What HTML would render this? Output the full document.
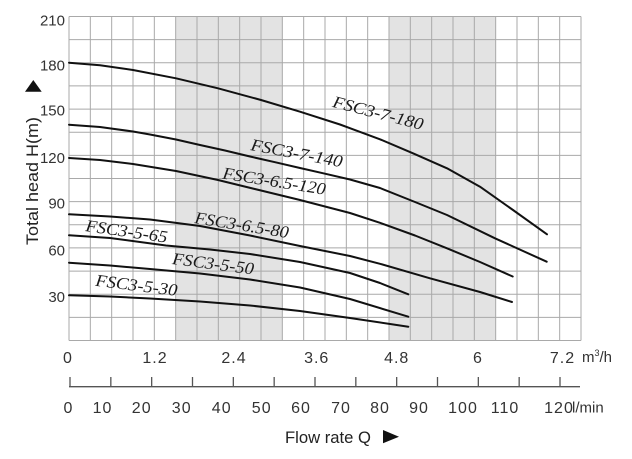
<!DOCTYPE html>
<html><head><meta charset="utf-8"><style>
html,body{margin:0;padding:0;background:#fff;}
svg{display:block;}
</style></head><body>
<svg width="632" height="459" viewBox="0 0 632 459" xmlns="http://www.w3.org/2000/svg">
<rect x="0" y="0" width="632" height="459" fill="#fff"/>
<!-- shaded bands -->
<rect x="175.67" y="16.5" width="106.66" height="324" fill="#e3e3e3"/>
<rect x="389" y="16.5" width="106.67" height="324" fill="#e3e3e3"/>
<!-- grid -->
<path fill="none" stroke="#a9a9a9" stroke-width="1" d="
M69,16.5V340.5 M90.33,16.5V340.5 M111.67,16.5V340.5 M133,16.5V340.5 M154.33,16.5V340.5 M175.67,16.5V340.5
M197,16.5V340.5 M218.33,16.5V340.5 M239.67,16.5V340.5 M261,16.5V340.5 M282.33,16.5V340.5 M303.67,16.5V340.5
M325,16.5V340.5 M346.33,16.5V340.5 M367.67,16.5V340.5 M389,16.5V340.5 M410.33,16.5V340.5 M431.67,16.5V340.5
M453,16.5V340.5 M474.33,16.5V340.5 M495.67,16.5V340.5 M517,16.5V340.5 M538.33,16.5V340.5 M559.67,16.5V340.5 M581,16.5V340.5
M69,16.5H581 M69,39.64H581 M69,62.79H581 M69,85.93H581 M69,109.07H581 M69,132.21H581 M69,155.36H581
M69,178.5H581 M69,201.64H581 M69,224.79H581 M69,247.93H581 M69,271.07H581 M69,294.21H581 M69,317.36H581 M69,340.5H581"/>

<!-- curves -->
<g fill="none" stroke="#111" stroke-width="2" stroke-linejoin="round" stroke-linecap="round">
<polyline points="69,62.7 100,65.2 133,70 176,78.3 218,88.3 261,100 300,111.7 340,124.5 380,139.3 413,153.3 447,168.3 480,186.7 513,210 547,234.3"/>
<polyline points="69,124.7 100,127 133,131.5 150,134.5 176,139.5 200,145 225,150.5 250,156.5 275,162.2 300,168 325,173.7 350,179.5 380,188 415,202 447,215 495,238.3 546.7,261.7"/>
<polyline points="69,158 100,160 133,164 176,171 218,180 261,190.5 300,200 350,213 380,222.8 415,235.5 447,248.3 480,262 512.7,276.5"/>
<polyline points="69,214.3 110,216.5 150,219.5 200,226 250,235.5 300,246 350,256 380,263.8 430,278.3 480,292 512,302"/>
<polyline points="69,235.3 110,238 166,245.5 210,249.5 250,254 300,262 350,273 380,283 408.3,294.3"/>
<polyline points="69,262.7 110,265.5 150,269 200,273.5 250,279.5 300,287.5 350,299 408.3,316.7"/>
<polyline points="69,295.3 110,296.5 150,298.5 200,301.5 250,305.5 300,311 350,318 408.3,326.7"/>
</g>

<!-- curve labels -->
<g font-family="'Liberation Serif', serif" font-style="italic" font-size="17" fill="#1a1a1a">
<text transform="translate(331.7,106.7) rotate(14.5)" textLength="93" lengthAdjust="spacingAndGlyphs">FSC3-7-180</text>
<text transform="translate(250,150) rotate(10.7)" textLength="93" lengthAdjust="spacingAndGlyphs">FSC3-7-140</text>
<text transform="translate(222,178.5) rotate(9)" textLength="104" lengthAdjust="spacingAndGlyphs">FSC3-6.5-120</text>
<text transform="translate(194,223) rotate(9.1)" textLength="95" lengthAdjust="spacingAndGlyphs">FSC3-6.5-80</text>
<text transform="translate(85,231) rotate(8.1)" textLength="82.5" lengthAdjust="spacingAndGlyphs">FSC3-5-65</text>
<text transform="translate(171.7,264) rotate(7.3)" textLength="82.2" lengthAdjust="spacingAndGlyphs">FSC3-5-50</text>
<text transform="translate(95,285.8) rotate(7)" textLength="82.3" lengthAdjust="spacingAndGlyphs">FSC3-5-30</text>
</g>

<!-- y axis labels -->
<g font-family="'Liberation Sans', sans-serif" font-size="15" fill="#333" text-anchor="end">
<text x="65" y="25.5">210</text>
<text x="65" y="70.5">180</text>
<text x="65" y="115.5">150</text>
<text x="65" y="163">120</text>
<text x="65" y="208.5">90</text>
<text x="65" y="255.5">60</text>
<text x="65" y="302">30</text>
</g>
<polygon points="25,91.7 41.7,91.7 33.3,80" fill="#111"/>
<text transform="translate(38,181) rotate(-90)" text-anchor="middle" font-family="'Liberation Sans', sans-serif" font-size="17" fill="#222" textLength="128" lengthAdjust="spacingAndGlyphs">Total head H(m)</text>

<!-- m3/h axis labels -->
<g font-family="'Liberation Sans', sans-serif" font-size="16" fill="#333" text-anchor="middle" letter-spacing="1">
<text x="68" y="363">0</text>
<text x="155" y="363">1.2</text>
<text x="234" y="363">2.4</text>
<text x="316.7" y="363">3.6</text>
<text x="396.7" y="363">4.8</text>
<text x="478" y="363">6</text>
<text x="562.5" y="363">7.2</text>
</g>
<text x="582" y="362" font-family="'Liberation Sans', sans-serif" font-size="15" fill="#333">m<tspan font-size="9" dy="-6">3</tspan><tspan dy="6">/h</tspan></text>

<!-- l/min scale -->
<path fill="none" stroke="#555" stroke-width="1.3" d="M69,386.7H580
M70,377V386.7 M110.83,377V386.7 M151.67,377V386.7 M192.5,377V386.7 M233.33,377V386.7 M274.17,377V386.7 M315,377V386.7
M355.83,377V386.7 M396.67,377V386.7 M437.5,377V386.7 M478.33,377V386.7 M519.17,377V386.7 M560,377V386.7"/>
<g font-family="'Liberation Sans', sans-serif" font-size="16" fill="#333" text-anchor="middle" letter-spacing="1">
<text x="68.5" y="413">0</text>
<text x="102.5" y="413">10</text>
<text x="141.7" y="413">20</text>
<text x="181.7" y="413">30</text>
<text x="221.7" y="413">40</text>
<text x="261.7" y="413">50</text>
<text x="301" y="413">60</text>
<text x="341" y="413">70</text>
<text x="380" y="413">80</text>
<text x="419" y="413">90</text>
<text x="463" y="413">100</text>
<text x="505" y="413">110</text>
<text x="559" y="413">120</text>
</g>
<text x="572" y="412.5" font-family="'Liberation Sans', sans-serif" font-size="15" fill="#333">l/min</text>

<text x="285" y="443" font-family="'Liberation Sans', sans-serif" font-size="16.5" fill="#222" textLength="86" lengthAdjust="spacingAndGlyphs">Flow rate Q</text>
<polygon points="383,430 383,443.3 399,436.7" fill="#111"/>
</svg>
</body></html>
